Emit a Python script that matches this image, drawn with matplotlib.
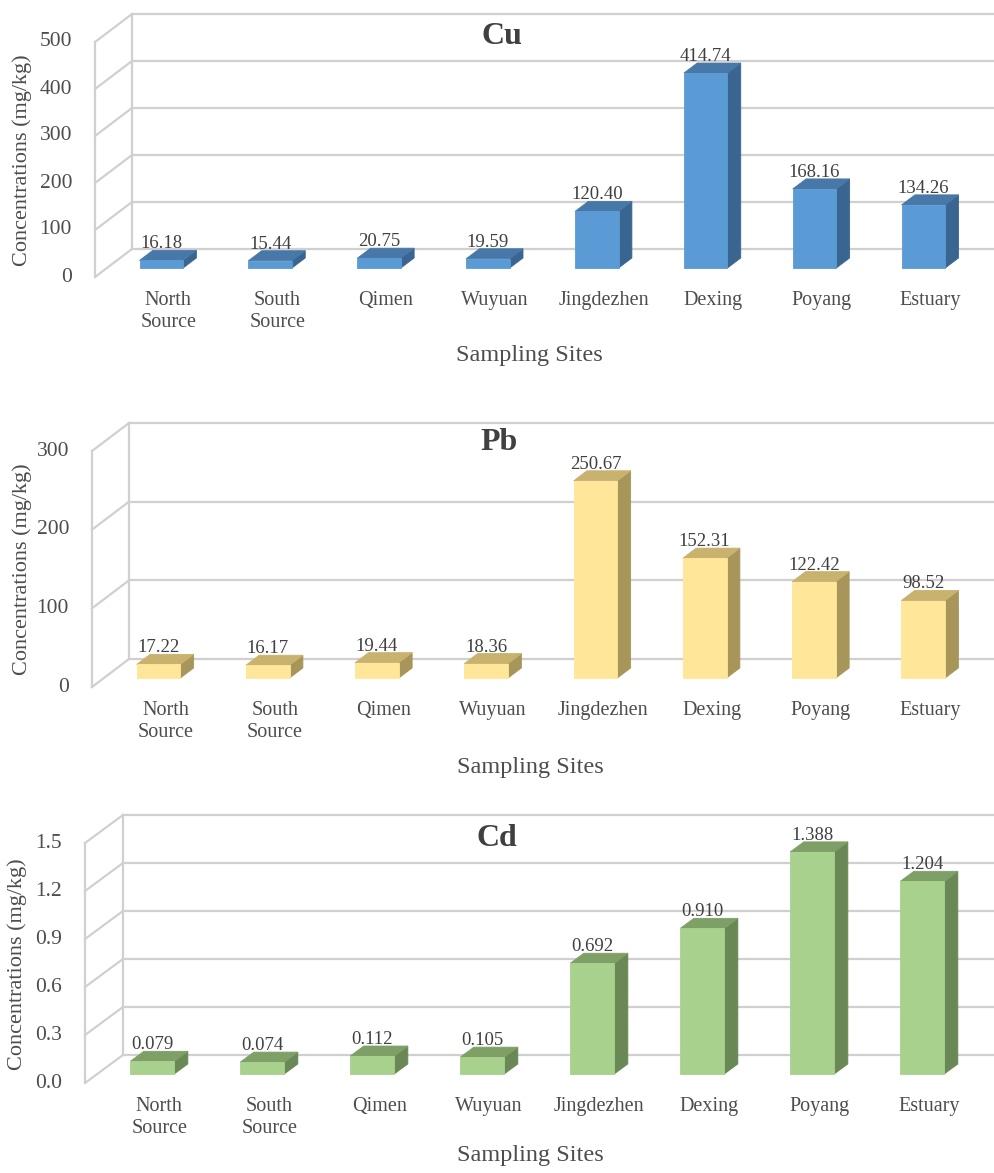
import matplotlib
matplotlib.use("Agg")
import matplotlib.pyplot as plt
from matplotlib.patches import Polygon

plt.rcParams["font.family"] = ["Liberation Serif", "DejaVu Serif"]

# data
sites = ["North\nSource", "South\nSource", "Qimen", "Wuyuan",
         "Jingdezhen", "Dexing", "Poyang", "Estuary"]
cu_values = [16.18, 15.44, 20.75, 19.59, 120.40, 414.74, 168.16, 134.26]
pb_values = [17.22, 16.17, 19.44, 18.36, 250.67, 152.31, 122.42, 98.52]
cd_values = [0.079, 0.074, 0.112, 0.105, 0.692, 0.910, 1.388, 1.204]
cu_ticks = [0, 100, 200, 300, 400, 500]
pb_ticks = [0, 100, 200, 300]
cd_ticks = [0.0, 0.3, 0.6, 0.9, 1.2, 1.5]

W, H = 995, 1173
GRID = "#D0D0D0"
TXT = "#4D4D4D"
DARK = "#404040"

# name, values, ticks, tick fmt, value fmt, (front, top, side),
# back wall px (left, top, bottom), depth px (dx, dy), title xy, ylabel xy, xlabel xy
panels = [
    ("Cu", cu_values, cu_ticks, "{:.0f}", "{:.2f}", ("#5B9BD5", "#4878A8", "#3A6590"),
     (132, 14, 249), (37, 28), (502, 37), (22, 160), (529, 355)),
    ("Pb", pb_values, pb_ticks, "{:.0f}", "{:.2f}", ("#FFE699", "#C8B26E", "#A8955A"),
     (129, 423, 659), (37, 28), (499, 443), (22, 569), (530, 767)),
    ("Cd", cd_values, cd_ticks, "{:.1f}", "{:.3f}", ("#A9D18E", "#7EA066", "#6A8856"),
     (123, 815, 1055), (38, 28), (497, 838), (17, 964), (530, 1155)),
]

fig = plt.figure(figsize=(W / 100, H / 100), dpi=100)
fig.patch.set_facecolor("white")

for (name, values, ticks, tfmt, vfmt, cols, wall, depth, tpos, ypos, xpos) in panels:
    left, top, bottom = wall
    right = 1003
    n = len(values)
    ymax = ticks[-1]
    ax = fig.add_axes([left / W, 1 - bottom / H, (right - left) / W, (bottom - top) / H])
    ax.set_xlim(0, n)
    ax.set_ylim(0, ymax)
    ax.axis("off")
    ppx = (right - left) / n
    ppy = (bottom - top) / ymax
    dx, dy = depth

    def P(x, y, d):
        return (x - d * dx / ppx, y - d * dy / ppy)

    # walls and gridlines
    for t in ticks:
        ax.plot([0, n], [t, t], color=GRID, lw=1.6, clip_on=False, zorder=1)
        x0, y0 = P(0, t, 0)
        x1, y1 = P(0, t, 1)
        ax.plot([x0, x1], [y0, y1], color=GRID, lw=1.6, clip_on=False, zorder=1)
        ax.text(x1 - 23 / ppx, y1, tfmt.format(t), ha="right", va="center",
                fontsize=15.5, color=TXT)
    ax.plot([0, 0], [0, ymax], color=GRID, lw=1.6, clip_on=False, zorder=1)
    fx, _ = P(0, 0, 1)
    ax.plot([fx, fx], [P(0, 0, 1)[1], P(0, ymax, 1)[1]], color=GRID, lw=1.6,
            clip_on=False, zorder=1)

    # 3D-look bars
    d0, d1, hw = 0.32, 0.68, 0.2
    front, topc, side = cols
    for i, v in enumerate(values):
        xc = i + 0.5
        fr = [P(xc - hw, 0, d1), P(xc + hw, 0, d1), P(xc + hw, v, d1), P(xc - hw, v, d1)]
        tp = [P(xc - hw, v, d1), P(xc + hw, v, d1), P(xc + hw, v, d0), P(xc - hw, v, d0)]
        sd = [P(xc + hw, 0, d1), P(xc + hw, 0, d0), P(xc + hw, v, d0), P(xc + hw, v, d1)]
        for pts, c in ((sd, side), (tp, topc), (fr, front)):
            ax.add_patch(Polygon(pts, closed=True, facecolor=c, edgecolor=c,
                                 lw=0.6, clip_on=False, zorder=3))
        cx, _ = P(xc, v, d1)
        _, by = P(xc, v, d0)
        ax.text(cx, by + 2 / ppy, vfmt.format(v), ha="center", va="baseline",
                fontsize=13.5, color=DARK, zorder=4)
        lx, ly = P(xc, 0, 1)
        ax.text(cx + 7 / ppx, ly - 14 / ppy, sites[i], ha="center", va="top",
                fontsize=14.5, color=TXT, linespacing=1.2)

    fig.text(tpos[0] / W, 1 - tpos[1] / H, name, ha="center", va="center",
             fontsize=23, fontweight="bold", color=DARK)
    fig.text(ypos[0] / W, 1 - ypos[1] / H, "Concentrations (mg/kg)", ha="center",
             va="center", rotation=90, fontsize=16, color=TXT)
    fig.text(xpos[0] / W, 1 - xpos[1] / H, "Sampling Sites", ha="center",
             va="center", fontsize=17.5, color=TXT)

fig.savefig("out.png", dpi=100)
